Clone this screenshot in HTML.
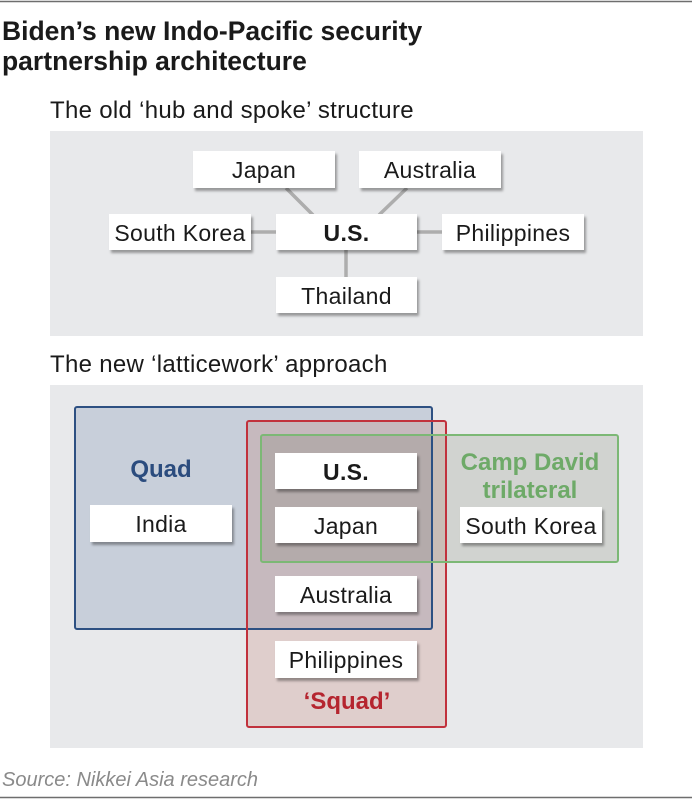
<!DOCTYPE html>
<html><head><meta charset="utf-8">
<style>
html,body{margin:0;padding:0;background:#fff;}
body{width:692px;height:800px;overflow:hidden;}
svg{display:block;}
text{font-family:"Liberation Sans",sans-serif;}
</style></head>
<body>
<svg width="692" height="800" viewBox="0 0 692 800" xmlns="http://www.w3.org/2000/svg">
<defs>
<filter id="sh" x="-10%" y="-20%" width="130%" height="160%">
<feGaussianBlur stdDeviation="1.2"/>
</filter>
</defs>
<rect x="0" y="0" width="692" height="800" fill="#fff"/>
<line x1="0" y1="1.5" x2="692" y2="1.5" stroke="#6e6e6e" stroke-width="1.5"/>
<line x1="0" y1="797.5" x2="692" y2="797.5" stroke="#6e6e6e" stroke-width="1.5"/>

<text x="2" y="40" font-size="26.5" font-weight="bold" fill="#1a1a1a">Biden’s new Indo-Pacific security</text>
<text x="2" y="70" font-size="26.5" font-weight="bold" fill="#1a1a1a">partnership architecture</text>

<text x="50" y="118" font-size="24" letter-spacing="0.3" fill="#1a1a1a">The old ‘hub and spoke’ structure</text>

<!-- panel 1 -->
<rect x="50" y="131" width="593" height="205" fill="#e8e9eb"/>
<g stroke="#adadad" stroke-width="3.5">
<line x1="286" y1="188" x2="313" y2="215"/>
<line x1="407" y1="188" x2="379" y2="215"/>
<line x1="251" y1="232" x2="276" y2="232"/>
<line x1="417" y1="232" x2="442" y2="232"/>
<line x1="346" y1="250" x2="346" y2="277"/>
</g>
<g fill="rgba(0,0,0,0.35)" filter="url(#sh)">
<rect x="195" y="154" width="142" height="37"/>
<rect x="361" y="154" width="142" height="37"/>
<rect x="111" y="217" width="142" height="36"/>
<rect x="278" y="217" width="141" height="36"/>
<rect x="444" y="217" width="142" height="36"/>
<rect x="278" y="280" width="141" height="36"/>
</g>
<g fill="#fff">
<rect x="193" y="151" width="142" height="37"/>
<rect x="359" y="151" width="142" height="37"/>
<rect x="109" y="214" width="142" height="36"/>
<rect x="276" y="214" width="141" height="36"/>
<rect x="442" y="214" width="142" height="36"/>
<rect x="276" y="277" width="141" height="36"/>
</g>
<g font-size="23" letter-spacing="0.3" fill="#1a1a1a" text-anchor="middle">
<text x="264" y="178">Japan</text>
<text x="430" y="178">Australia</text>
<text x="180" y="241">South Korea</text>
<text x="346.5" y="241" font-weight="bold">U.S.</text>
<text x="513" y="241">Philippines</text>
<text x="346.5" y="304">Thailand</text>
</g>

<text x="50" y="372" font-size="24" letter-spacing="0.3" fill="#1a1a1a">The new ‘latticework’ approach</text>

<!-- panel 2 -->
<rect x="50" y="385" width="593" height="363" fill="#e8e9eb"/>
<rect x="75" y="407" width="357" height="222" fill="rgba(87,113,160,0.22)"/>
<rect x="247" y="421" width="199" height="306" fill="rgba(190,100,80,0.2)"/>
<rect x="261" y="435" width="357" height="127" fill="rgba(95,105,80,0.17)"/>
<rect x="75" y="407" width="357" height="222" fill="none" stroke="#2d5082" stroke-width="2" rx="2"/>
<rect x="247" y="421" width="199" height="306" fill="none" stroke="#c1313c" stroke-width="2" rx="2"/>
<rect x="261" y="435" width="357" height="127" fill="none" stroke="#7cb875" stroke-width="2" rx="2"/>

<g fill="rgba(0,0,0,0.35)" filter="url(#sh)">
<rect x="92" y="508" width="142" height="37"/>
<rect x="277" y="456" width="142" height="36"/>
<rect x="277" y="510" width="142" height="36"/>
<rect x="462" y="510" width="142" height="36"/>
<rect x="277" y="579" width="142" height="36"/>
<rect x="277" y="644" width="142" height="37"/>
</g>
<g fill="#fff">
<rect x="90" y="505" width="142" height="37"/>
<rect x="275" y="453" width="142" height="36"/>
<rect x="275" y="507" width="142" height="36"/>
<rect x="460" y="507" width="142" height="36"/>
<rect x="275" y="576" width="142" height="36"/>
<rect x="275" y="641" width="142" height="37"/>
</g>
<g font-size="23" letter-spacing="0.3" fill="#1a1a1a" text-anchor="middle">
<text x="161" y="532">India</text>
<text x="346" y="480" font-weight="bold">U.S.</text>
<text x="346" y="534">Japan</text>
<text x="531" y="534">South Korea</text>
<text x="346" y="603">Australia</text>
<text x="346" y="668">Philippines</text>
</g>
<g font-size="24" font-weight="bold" text-anchor="middle">
<text x="161" y="477" fill="#2b4c7e">Quad</text>
<text x="530" y="470" fill="#6eaa68">Camp David</text>
<text x="530" y="498" fill="#6eaa68">trilateral</text>
<text x="347" y="709" fill="#b5252f">‘Squad’</text>
</g>

<text x="2" y="786" font-size="20" font-style="italic" fill="#8a8a8a">Source: Nikkei Asia research</text>
</svg>
</body></html>
